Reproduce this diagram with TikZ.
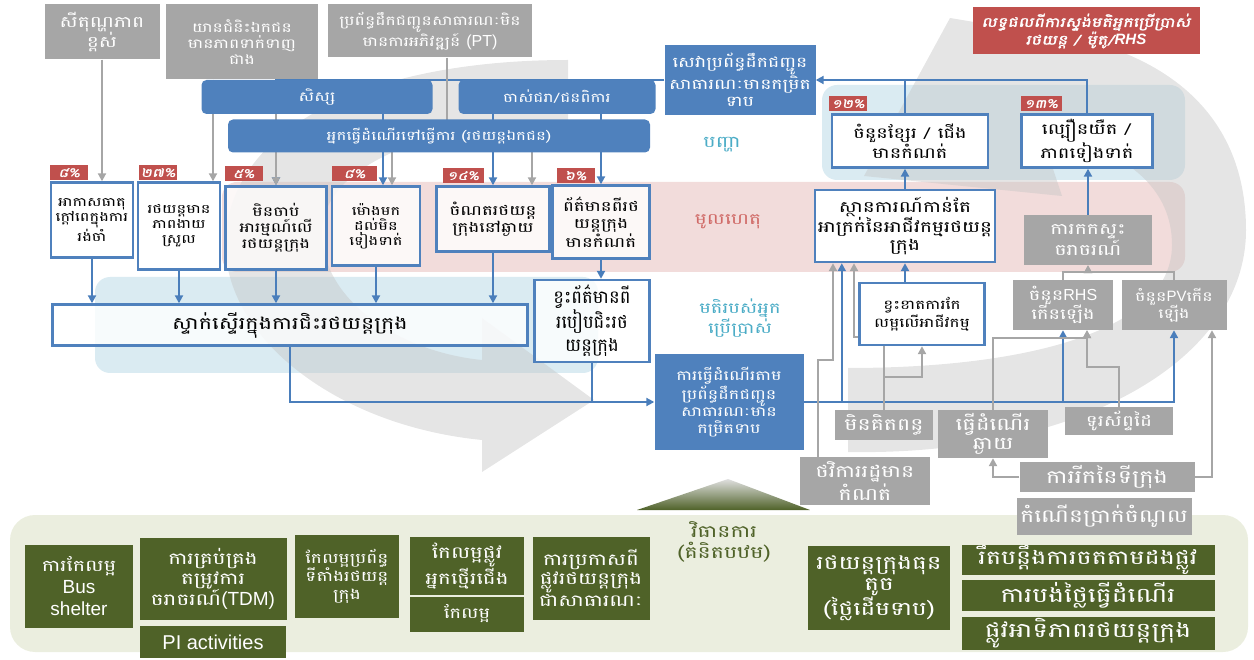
\documentclass[tikz,border=0pt]{standalone}
\usepackage{fontspec}
\usepackage{tikz}
\usetikzlibrary{arrows.meta}

\newfontfamily\kh[Script=Khmer,FakeStretch=1.3]{Battambang}
\newfontfamily\khn[Script=Khmer]{Battambang}
\newfontfamily\khslant[Script=Khmer,FakeStretch=1.3,FakeSlant=0.2,FakeBold=1.5]{Battambang}
\newfontfamily\arialfont{Liberation Sans}
\newcommand{\ksize}[2]{\fontsize{#1}{#2}\selectfont}

\definecolor{boxblue}{HTML}{4F81BD}
\definecolor{linkblue}{HTML}{4A7EBB}
\definecolor{factorgray}{HTML}{A6A6A6}
\definecolor{tagred}{HTML}{C0504D}
\definecolor{measgreen}{HTML}{4F6228}
\definecolor{probband}{HTML}{DAEBF2}
\definecolor{causeband}{HTML}{F2DCDB}
\definecolor{panelgreen}{HTML}{EBEEDF}
\definecolor{teallabel}{HTML}{4BACC6}
\definecolor{redlabel}{HTML}{D06A67}

\pgfdeclarelayer{background}
\pgfdeclarelayer{links}
\pgfsetlayers{background,links,main}

\tikzset{
  cause/.style={draw=boxblue, line width=2.4pt, fill=white, fill opacity=0.8, text opacity=1,
    align=center, inner sep=0pt, font=\kh\ksize{12.5}{15}},
  group/.style={fill=boxblue, rounded corners=5pt, text=white, align=center, inner sep=0pt,
    font=\kh\ksize{13}{15}},
  factor/.style={fill=factorgray, text=white, align=center, inner sep=0pt, font=\kh\ksize{13.3}{16}},
  pct/.style={fill=tagred, text=white, anchor=south west, minimum width=38pt, minimum height=15pt,
    inner sep=0pt, font=\khslant\ksize{12}{12}},
  measure/.style={fill=measgreen, text=white, align=center, inner sep=0pt, font=\kh\ksize{16}{19}},
  barrow/.style={draw=linkblue, line width=2.2pt, -{Triangle[length=8pt,width=8pt]}},
  bline/.style={draw=linkblue, line width=2.2pt},
  garrow/.style={draw=factorgray, line width=2.2pt, -{Triangle[length=8pt,width=8pt]}},
  gline/.style={draw=factorgray, line width=2.2pt},
  cycle arrow/.style={fill=gray!45, fill opacity=0.45}
}

\begin{document}
\begin{tikzpicture}[x=1pt, y=-1pt]
    \useasboundingbox (0,0) rectangle (1254,660);

    % sources at the top
    \node[factor, minimum width=115pt, minimum height=55pt, font=\kh\ksize{15.6}{18}] (hightemp) at (102,32) {សីតុណ្ហភាព\\ខ្ពស់};
    \node[factor, minimum width=152pt, minimum height=75pt] (privveh) at (242,42) {យានជំនិះឯកជន\\មានភាពទាក់ទាញ\\ជាង};
    \node[factor, minimum width=204pt, minimum height=53pt] (ptnodev) at (430,31) {ប្រព័ន្ធដឹកជញ្ជូនសាធារណៈមិន\\មានការអភិវឌ្ឍន៍ {\arialfont\ksize{16}{16}(PT)}};
    % user groups
    \node[group, minimum width=231pt, minimum height=34pt, font=\kh\ksize{13.5}{15}] (students) at (317,97) {សិស្ស};
    \node[group, minimum width=197pt, minimum height=34pt] (elderly) at (557,97) {ចាស់ជរា/ជនពិការ};
    \node[group, minimum width=422pt, minimum height=33pt, font=\kh\ksize{12.8}{15}] (commuters) at (439,136) {អ្នកធ្វើដំណើរទៅធ្វើការ (រថយន្តឯកជន)};
    \node[group, sharp corners, minimum width=151pt, minimum height=70pt, font=\kh\ksize{14.5}{16.5}] (lowsvc) at (740,80) {សេវាប្រព័ន្ធដឹកជញ្ជូន\\សាធារណៈមានកម្រិត\\ទាប};
    \node[fill=tagred, text=white, align=center, inner sep=0pt, minimum width=227pt, minimum height=47pt, font=\khslant\ksize{13.5}{16}] (survey) at (1086,31) {លទ្ធផលពីការស្ទង់មតិអ្នកប្រើប្រាស់\\រថយន្ត / ម៉ូតូ/{\arialfont\bfseries\itshape\ksize{15}{16}RHS}};

    % band labels
    \node[font=\kh\ksize{16}{18}, text=teallabel] (problbl) at (722,145) {បញ្ហា};
    \node[font=\kh\ksize{15.5}{18}, text=redlabel] (causelbl) at (728,222) {មូលហេតុ};
    \node[font=\kh\ksize{15}{18}, text=teallabel, align=center] (userlbl) at (740,318) {មតិរបស់អ្នក\\ប្រើប្រាស់};
    \node[font=\kh\ksize{17}{21}, text=measgreen, align=center] (measlbl) at (724,542) {វិធានការ\\(គំនិតបឋម)};

    % causes
    \node[cause, minimum width=82pt, minimum height=75pt] (heatwait) at (92,220) {អាកាសធាតុ\\ក្តៅពេក្នុងការ\\រង់ចាំ};
    \node[cause, minimum width=82pt, minimum height=87pt] (carease) at (179,226) {រថយន្តមាន\\ភាពងាយ\\ស្រួល};
    \node[cause, minimum width=101pt, minimum height=83pt, font=\kh\ksize{13.5}{16}] (nointerest) at (276,228) {មិនចាប់\\អារម្មណ៍លើ\\រថយន្តក្រុង};
    \node[cause, minimum width=88pt, minimum height=79pt] (irregular) at (376,226) {ម៉ោងមក\\ដល់មិន\\ទៀងទាត់};
    \node[cause, minimum width=113pt, minimum height=65pt, font=\kh\ksize{14}{17}] (farstop) at (493,219) {ចំណតរថយន្ត\\ក្រុងនៅឆ្ងាយ};
    \node[cause, minimum width=97pt, minimum height=73pt, font=\kh\ksize{14}{17}] (limitinfo) at (601,222) {ព័ត៌មានពីរថ\\យន្តក្រុង\\មានកំណត់};
    \node[pct] (pctheat) at ([yshift=1pt]heatwait.north west) {៨\%};
    \node[pct] (pctease) at ([xshift=2pt, yshift=1pt]carease.north west) {២៧\%};
    \node[pct] (pctinterest) at ([yshift=4pt]nointerest.north west) {៥\%};
    \node[pct, minimum width=45pt] (pctirreg) at ([xshift=1pt, yshift=4pt]irregular.north west) {៨\%};
    \node[pct, minimum width=41pt] (pctstop) at ([xshift=7pt, yshift=2pt]farstop.north west) {១៤\%};
    \node[pct] (pctinfo) at ([xshift=5pt, yshift=1pt]limitinfo.north west) {៦\%};

    % opinions and use
    \node[cause, minimum width=475pt, minimum height=41pt, font=\kh\ksize{17.2}{20}] (hesitant) at (290,325) {ស្ទាក់ស្ទើរក្នុងការជិះរថយន្តក្រុង};
    \node[cause, minimum width=115pt, minimum height=82pt, font=\khn\ksize{18}{23}] (noknow) at (592,321) {ខ្វះព័ត៌មានពី\\របៀបជិះរថ\\យន្តក្រុង};
    \node[group, sharp corners, minimum width=149pt, minimum height=95pt, font=\kh\ksize{13.6}{17}] (lowuse) at (729,402) {ការធ្វើដំណើរតាម\\ប្រព័ន្ធដឹកជញ្ជូន\\សាធារណៈមាន\\កម្រិតទាប};

    % operator side
    \node[cause, fill opacity=1, minimum width=156pt, minimum height=53pt, font=\kh\ksize{14.9}{17}] (fewroutes) at (910,141) {ចំនួនខ្សែរ / ជើង\\មានកំណត់};
    \node[cause, fill opacity=1, minimum width=131pt, minimum height=53pt, font=\kh\ksize{15}{17}] (slowspeed) at (1087,141) {ល្បឿនយឺត /\\ភាពទៀងទាត់};
    \node[pct] (pctroutes) at ([xshift=-2pt, yshift=2pt]fewroutes.north west) {១២\%};
    \node[pct, minimum width=41pt] (pctspeed) at ([yshift=2pt]slowspeed.north west) {១៣\%};
    \node[cause, fill opacity=1, minimum width=180pt, minimum height=72pt, font=\kh\ksize{15.5}{18}] (worsebiz) at (905,226) {ស្ថានការណ៍កាន់តែ\\អាក្រក់នៃអាជីវកម្មរថយន្ត\\ក្រុង};
    \node[cause, fill opacity=1, minimum width=125pt, minimum height=62pt, font=\kh\ksize{13}{18}] (noimprove) at (922,314) {ខ្វះខាតការកែ\\លម្អលើអាជីវកម្ម};
    \node[factor, minimum width=128pt, minimum height=50pt, font=\kh\ksize{15.7}{18}] (congest) at (1088,240) {ការកកស្ទះ\\ចរាចរណ៍};
    \node[factor, minimum width=100pt, minimum height=50pt, font=\kh\ksize{14.9}{17}] (rhsup) at (1063,305) {ចំនួន{\arialfont\ksize{16}{17}RHS}\\កើនឡើង};
    \node[factor, minimum width=105pt, minimum height=50pt, font=\kh\ksize{13.5}{17}] (pvup) at (1174,305) {ចំនួន{\arialfont\ksize{15}{17}PV}កើន\\ឡើង};

    % outside factors
    \node[factor, minimum width=98pt, minimum height=30pt, font=\kh\ksize{17}{18}] (notax) at (884,425) {មិនគិតពន្ធ};
    \node[factor, minimum width=110pt, minimum height=48pt, font=\kh\ksize{17.5}{19}] (travelfar) at (993,434) {ធ្វើដំណើរ\\ឆ្ងាយ};
    \node[factor, minimum width=108pt, minimum height=28pt, font=\kh\ksize{15.5}{17}] (mobile) at (1119,421) {ទូរស័ព្ទដៃ};
    \node[factor, minimum width=130pt, minimum height=48pt, font=\kh\ksize{17}{19}] (budget) at (865,481) {ថវិការរដ្ឋមាន\\កំណត់};
    \node[factor, minimum width=175pt, minimum height=30pt, font=\kh\ksize{18.5}{19}] (citygrow) at (1107,477) {ការរីកនៃទីក្រុង};
    \node[factor, minimum width=175pt, minimum height=37pt, font=\kh\ksize{18}{19}] (income) at (1104,516) {កំណើនប្រាក់ចំណូល};

    % measures
    \node[measure, minimum width=108pt, minimum height=83pt, font=\kh\ksize{16}{22}] (shelter) at (79,586) {ការកែលម្អ\\{\arialfont\ksize{19}{22}Bus}\\{\arialfont\ksize{19}{22}shelter}};
    \node[measure, minimum width=147pt, minimum height=82pt, font=\kh\ksize{16.5}{20}] (tdm) at (213,579) {ការគ្រប់គ្រង\\តម្រូវការ\\ចរាចរណ៍{\arialfont\ksize{19}{20}(TDM)}};
    \node[measure, minimum width=146pt, minimum height=32pt, font=\arialfont\ksize{20}{22}] (piact) at (213,642) {PI activities};
    \node[measure, minimum width=104pt, minimum height=83pt, font=\kh\ksize{14.3}{18}] (stopsys) at (347,576) {កែលម្អប្រព័ន្ធ\\ទីតាំងរថយន្ត\\ក្រុង};
    \node[measure, minimum width=114pt, minimum height=58pt, font=\kh\ksize{16.5}{20}] (walkway) at (467,566) {កែលម្អផ្លូវ\\អ្នកថ្មើរជើង};
    \node[measure, minimum width=114pt, minimum height=35pt, font=\kh\ksize{15}{16}] (upgrade) at (467,614) {កែលម្អ};
    \node[measure, minimum width=117pt, minimum height=83pt, font=\kh\ksize{16.5}{19}] (announce) at (591,578) {ការប្រកាសពី\\ផ្លូវរថយន្តក្រុង\\ជាសាធារណៈ};
    \node[measure, minimum width=142pt, minimum height=84pt, font=\kh\ksize{19}{21}] (smallbus) at (879,588) {រថយន្តក្រុងធុន\\តូច\\(ថ្លៃដើមទាប)};
    \node[measure, minimum width=253pt, minimum height=29pt, font=\kh\ksize{19.5}{20}] (parking) at (1088,560) {រឹតបន្តឹងការចតតាមដងផ្លូវ};
    \node[measure, minimum width=253pt, minimum height=31pt, font=\kh\ksize{20.5}{21}] (fare) at (1088,595) {ការបង់ថ្លៃធ្វើដំណើរ};
    \node[measure, minimum width=253pt, minimum height=33pt, font=\kh\ksize{20.5}{21}] (buslane) at (1088,633) {ផ្លូវអាទិភាពរថយន្តក្រុង};

    \begin{pgfonlayer}{background}
        % bands
        \fill[probband, rounded corners=15pt] (822,85) rectangle (1185,180);
        \fill[causeband, rounded corners=15pt] (222,182) rectangle (1185,272);
        \fill[probband, rounded corners=15pt] (95,277) rectangle (598,373);
        \fill[panelgreen, rounded corners=25pt] (10,515) rectangle (1248,652);
        \shade[top color=gray!25, bottom color=measgreen] (637,510) -- (728,479) -- (810,510) -- cycle;
        % cycle arrows
        \fill[cycle arrow] (568,60) .. controls (380,60) and (240,120) .. (226,230)
            .. controls (215,330) and (330,425) .. (482,440) -- (482,472) -- (594,400) -- (482,318)
            -- (482,360) .. controls (400,352) and (320,300) .. (322,230)
            .. controls (325,165) and (430,122) .. (568,122) -- cycle;
        \fill[cycle arrow] (848,368) -- (848,452) .. controls (1080,456) and (1246,360) .. (1246,230)
            .. controls (1246,110) and (1160,40) .. (1010,28) -- (950,18) -- (864,176) -- (1062,196)
            -- (1040,130) .. controls (1130,150) and (1172,190) .. (1172,245)
            .. controls (1172,330) and (1030,368) .. (848,368) -- cycle;
    \end{pgfonlayer}

    \begin{pgfonlayer}{links}
        % gray links from the sources
        \draw[garrow] (hightemp.south) -- (hightemp.south |- heatwait.north);
        \draw[garrow] ([xshift=-29pt]privveh.south) -- ([xshift=-29pt]privveh.south |- carease.north);
        \draw[barrow] (lowsvc.west) -| (nointerest.north);
        \draw[garrow] (privveh.south -| nointerest.north) -- (nointerest.north);
        \draw[gline] ([xshift=17pt]ptnodev.south) -- ++(0,80) coordinate (ptsplit);
        \draw[garrow] (ptsplit) -| ([xshift=16pt]irregular.north);
        \draw[garrow] (ptsplit) -| ([xshift=39pt]farstop.north);
        % blue links from the groups
        \draw[barrow] ([xshift=7pt]irregular.north |- students.south) -- ([xshift=7pt]irregular.north);
        \draw[barrow] (farstop.north |- elderly.south) -- (farstop.north);
        \draw[barrow] (limitinfo.north |- elderly.south) -- (limitinfo.north);
        % causes to opinions
        \foreach \src in {heatwait, carease, nointerest, irregular, farstop}
            \draw[barrow] (\src.south) -- (\src.south |- hesitant.north);
        \draw[barrow] (limitinfo.south) -- (limitinfo.south |- noknow.north);
        \draw[barrow] (hesitant.south) |- (lowuse.west);
        \draw[bline] (noknow.south) -- (noknow.south |- lowuse.west);
        % low use feeds the operator side
        \draw[barrow] (lowuse.east) -| (pvup.south);
        \draw[barrow] (rhsup.south |- lowuse.east) -- (rhsup.south);
        \draw[barrow] ([xshift=28pt]worsebiz.south west |- lowuse.east) -- ([xshift=28pt]worsebiz.south west);
        \draw[barrow] (noimprove.north -| worsebiz.south) -- (worsebiz.south);
        \draw[barrow] (worsebiz.north) -- (worsebiz.north |- fewroutes.south);
        \draw[barrow] (congest.north) -- (congest.north |- slowspeed.south);
        \draw[barrow] (slowspeed.north) |- (lowsvc.east);
        \draw[bline] (fewroutes.north -| worsebiz.north) -- (worsebiz.north |- lowsvc.east);
        % gray links from outside factors
        \draw[garrow] (rhsup.north) -- ++(0,-8) -| (congest.south);
        \draw[garrow] (pvup.north) -- ++(0,-8) -| (congest.south);
        \draw[garrow] (notax.north) -- ++(0,-33) -| (noimprove.south);
        \draw[garrow] (notax.north) -- ++(0,-73) -| ([xshift=-51pt]worsebiz.south);
        \draw[garrow] ([xshift=18pt]budget.north west) -- ++(0,-97) -| ([xshift=-72pt]worsebiz.south);
        \draw[garrow] (travelfar.north) -- ++(0,-72) -| ([xshift=24pt]rhsup.south);
        \draw[garrow] (mobile.north) -- ++(0,-40) -| ([xshift=24pt]rhsup.south);
        \draw[garrow] (citygrow.west) -| (travelfar.south);
        \draw[garrow] (citygrow.east) -| ([xshift=38pt]pvup.south);
    \end{pgfonlayer}

\end{tikzpicture}
\end{document}
